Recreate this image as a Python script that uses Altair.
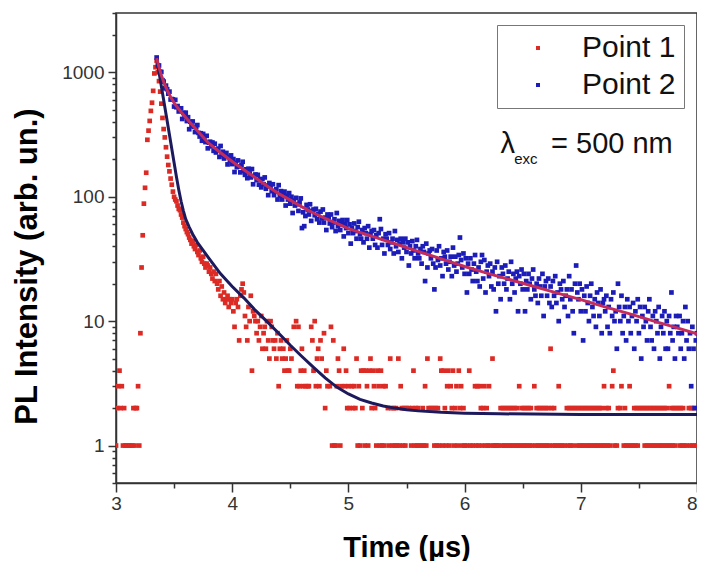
import altair as alt
import pandas as pd
import numpy as np

FONT = "Liberation Sans"

# ---- Point 1 (red) : counts on a 0.01 us grid starting at 3.00 us (0 = empty bin) ----
red_start, red_step = 3.00, 0.01
red_counts = [
    1, 2, 3, 4, 2, 3, 1, 2, 1, 1, 0, 1, 1, 0, 1, 2, 1, 2, 2, 3, 1,
    8, 27, 49, 88, 118, 156, 287, 340, 407, 490, 570, 710, 980, 1100, 1240,
    1000, 850, 700, 560, 430, 350, 300, 250, 210, 180,
    160, 140, 125, 110, 100, 95, 92, 85, 80, 78,
    72, 68, 62, 58, 55, 52, 50, 47, 45, 42,
    44, 40, 38, 41, 36, 34, 37, 32, 30, 33,
    29, 27, 29, 28, 25, 27, 24, 22, 25, 21,
    24, 20, 18, 21, 16, 19, 15, 17, 14, 15,
    16, 13, 15, 14, 15, 12, 9, 14, 15, 13,
    7, 16, 18, 20, 17, 11, 9, 7, 13, 10,
    16, 4, 12, 11, 10, 8, 10, 7, 9, 11,
    6, 8, 9, 6, 10, 7, 5, 10, 9, 7,
    6, 7, 5, 8, 3, 6, 7, 5, 6, 4,
    5, 7, 4, 4, 6, 5, 0, 9, 0, 10,
    3, 9, 3, 4, 6, 3, 4, 3, 0, 3,
    3, 0, 9, 7, 4, 10, 3, 5, 6, 3,
    7, 5, 0, 8, 2, 4, 3, 0, 3, 9,
    1, 7, 1, 1, 3, 5, 4, 1, 3, 0,
    6, 3, 4, 2, 3, 2, 0, 3, 2, 3,
    2, 5, 1, 3, 1, 4, 2, 4, 1, 4,
    3, 1, 4, 5, 2, 4, 3, 2, 1, 4,
    3, 1, 4, 1, 3, 1, 3, 0, 2, 1,
    5, 2, 1, 2, 1, 2, 1, 5, 1, 3,
    2, 1, 2, 1, 2, 0, 2, 0, 1, 2,
    4, 1, 2, 1, 2, 1, 0, 1, 2, 1,
    3, 1, 5, 2, 0, 2, 0, 2, 1, 2,
    1, 2, 1, 5, 4, 1, 4, 2, 1, 3,
    4, 1, 3, 2, 4, 1, 2, 3, 1, 4,
    2, 3, 1, 2, 1, 0, 1, 0, 4, 1,
    0, 1, 0, 3, 1, 3, 1, 3, 2, 1,
    2, 3, 1, 2, 1, 3, 1, 0, 5, 1,
    1, 1, 1, 1, 0, 2, 1, 2, 1, 2,
    1, 2, 1, 2, 1, 2, 1, 2, 1, 2,
    1, 3, 1, 2, 1, 2, 1, 2, 1, 2,
    1, 2, 1, 0, 3, 1, 2, 1, 2, 1,
    2, 1, 2, 1, 2, 1, 2, 1, 6, 2,
    1, 2, 1, 0, 1, 3, 1, 0, 1, 0,
    1, 0, 2, 1, 2, 1, 2, 1, 2, 0,
    2, 1, 2, 1, 2, 1, 2, 1, 2, 1,
    2, 1, 2, 1, 2, 1, 2, 1, 2, 1,
    2, 1, 2, 1, 3, 1, 2, 1, 2, 1,
    0, 3, 4, 1, 0, 1, 2, 0, 2, 3,
    0, 1, 2, 1, 0, 1, 3, 1, 0, 1,
    2, 1, 2, 1, 2, 0, 2, 0, 2, 1,
    2, 1, 2, 1, 2, 1, 2, 1, 2, 1,
    2, 1, 2, 1, 2, 1, 2, 1, 2, 1,
    3, 1, 2, 1, 2, 1, 2, 0, 2, 1,
    2, 1, 2, 1, 0, 1, 0, 2, 1, 2,
    1, 2, 1, 0, 1,
]

# ---- Point 2 (blue) : counts on a 0.01 us grid starting at 3.35 us ----
blue_start, blue_step = 3.35, 0.01
blue_counts = [
    1316, 1138, 1135, 1012, 1007, 865, 843, 744, 782, 732,
    674, 700, 605, 610, 606, 531, 601, 524, 536, 485,
    499, 514, 422, 472, 442, 474, 406, 436, 349, 401,
    371, 403, 365, 331, 363, 377, 326, 305, 324, 282,
    320, 296, 275, 309, 245, 272, 277, 254, 273, 234,
    267, 227, 238, 244, 209, 256, 217, 230, 203, 215,
    225, 182, 209, 196, 215, 183, 201, 158, 187, 173,
    196, 175, 157, 179, 191, 162, 150, 166, 141, 168,
    154, 143, 167, 126, 147, 151, 136, 150, 125, 138,
    119, 139, 126, 143, 116, 123, 103, 129, 121, 111,
    126, 103, 110, 115, 95, 124, 102, 111, 95, 103,
    110, 85, 102, 95, 107, 88, 100, 74, 93, 85,
    98, 87, 77, 90, 97, 56, 75, 58, 70, 86,
    79, 72, 87, 64, 77, 79, 71, 80, 66, 73,
    62, 76, 67, 79, 62, 68, 54, 72, 68, 61,
    72, 57, 62, 66, 53, 74, 58, 64, 54, 60,
    65, 48, 60, 56, 65, 51, 60, 42, 56, 51,
    61, 53, 46, 57, 63, 50, 46, 54, 43, 56,
    51, 46, 58, 39, 50, 53, 46, 54, 41, 49,
    39, 51, 66, 55, 41, 46, 35, 50, 46, 41,
    51, 38, 43, 46, 35, 53, 40, 45, 36, 42,
    46, 32, 43, 39, 46, 36, 43, 28, 40, 35,
    44, 37, 32, 40, 45, 35, 32, 38, 29, 40,
    36, 21, 42, 27, 35, 37, 32, 38, 29, 18,
    27, 37, 31, 40, 28, 32, 23, 36, 33, 29,
    37, 26, 30, 33, 23, 39, 28, 33, 25, 29,
    34, 47, 31, 27, 35, 24, 32, 17, 29, 24,
    32, 26, 21, 29, 34, 25, 21, 27, 19, 30,
    34, 22, 31, 17, 25, 28, 23, 29, 19, 25,
    18, 27, 12, 30, 20, 23, 15, 27, 24, 20,
    28, 18, 22, 25, 15, 30, 20, 24, 17, 22,
    25, 12, 23, 20, 26, 18, 24, 12, 21, 18,
    24, 20, 15, 22, 26, 18, 16, 20, 14, 22,
    19, 16, 24, 11, 19, 21, 16, 22, 14, 19,
    13, 21, 16, 23, 14, 17, 10, 20, 18, 15,
    21, 13, 16, 18, 11, 23, 15, 18, 12, 8,
    20, 28, 17, 15, 20, 12, 18, 7, 16, 12,
    19, 14, 10, 16, 20, 13, 11, 15, 9, 17,
    14, 11, 18, 8, 14, 15, 12, 16, 9, 13,
    8, 15, 11, 17, 10, 12, 6, 20, 13, 10,
    16, 8, 11, 13, 7, 15, 10, 13, 8, 11,
    14, 6, 12, 10, 15, 8, 13, 5, 11, 9,
    13, 10, 7, 12, 15, 9, 7, 11, 6, 12,
    10, 8, 13, 5, 9, 11, 8, 12, 6, 10,
    6, 11, 8, 17, 7, 9, 5, 11, 9, 8,
    11, 6, 8, 10, 5, 13, 7, 10, 6, 8,
    3, 9, 6, 2, 7, 8,
]

# ---- fitted curves ----
fit1_t = [3.35, 3.40, 3.45, 3.50, 3.52, 3.54, 3.56, 3.58, 3.60, 3.63, 3.66, 3.70, 3.75,
          3.80, 3.90, 4.00, 4.10, 4.20, 4.30, 4.40, 4.50, 4.60, 4.70, 4.80, 4.90, 5.00,
          5.10, 5.20, 5.30, 5.40, 5.50, 5.60, 5.80, 6.00, 6.30, 6.60, 7.00, 7.50, 8.00]
fit1_y = [1300, 682, 358, 188, 145, 114, 92, 77, 66, 57, 50, 43, 37,
          32, 24, 19, 15.4, 12.2, 9.9, 8.0, 6.4, 5.2, 4.25, 3.5, 2.95, 2.6,
          2.35, 2.2, 2.08, 2.0, 1.94, 1.9, 1.85, 1.82, 1.8, 1.79, 1.78, 1.78, 1.78]

fit2_t = [3.35, 3.37, 3.39, 3.41, 3.44, 3.47, 3.51, 3.56, 3.60, 3.70, 3.80, 3.90, 4.00,
          4.10, 4.20, 4.30, 4.40, 4.50, 4.60, 4.70, 4.80, 4.90, 5.00, 5.20, 5.40, 5.60,
          5.80, 6.00, 6.20, 6.40, 6.60, 6.80, 7.00, 7.20, 7.40, 7.60, 7.80, 8.00]
fit2_y = [1300, 1100, 950, 840, 720, 634, 549, 480, 434, 339, 268, 226, 192,
          165, 142, 122, 106, 94, 83, 74, 67, 61, 55.5, 48.2, 41.9, 36.4,
          31.7, 27.5, 24.2, 21.4, 19, 16.8, 14.9, 13.1, 11.6, 10.2, 9.0, 7.9]

series_names = ["Point 1", "Point 2"]
series_colors = ["#dc2a24", "#1c1cb8"]

y_ticks = [0.5, 0.6, 0.7, 0.8, 0.9, 1, 2, 3, 4, 5, 6, 7, 8, 9, 10, 20, 30, 40, 50, 60, 70, 80, 90,
           100, 200, 300, 400, 500, 600, 700, 800, 900, 1000, 2000, 3000]
x_ticks = [3, 3.5, 4, 4.5, 5, 5.5, 6, 6.5, 7, 7.5, 8]

# ---- tables ----
red_df = pd.DataFrame({"t": np.round(red_start + red_step * np.arange(len(red_counts)), 3),
                       "y": red_counts, "series": series_names[0]})
blue_df = pd.DataFrame({"t": np.round(blue_start + blue_step * np.arange(len(blue_counts)), 3),
                        "y": blue_counts, "series": series_names[1]})
pts = pd.concat([red_df, blue_df], ignore_index=True)
pts = pts[pts["y"] > 0]
fit1_df = pd.DataFrame({"t": fit1_t, "y": fit1_y})
fit2_df = pd.DataFrame({"t": fit2_t, "y": fit2_y})

major_y = "datum.value == 1 || datum.value == 10 || datum.value == 100 || datum.value == 1000"
major_x = "datum.value % 1 == 0"

x_scale = alt.Scale(domain=[3, 8], nice=False, zero=False)
y_scale = alt.Scale(type="log", domain=[0.5, 3000], nice=False)

x_axis = alt.Axis(
    values=x_ticks, title="Time (\u00b5s)", grid=False,
    labelExpr=f"({major_x}) ? format(datum.value, 'd') : ''",
    labelAlign={"condition": {"test": "datum.value == 8", "value": "right"}, "value": "center"},
    tickSize={"condition": {"test": major_x, "value": 9}, "value": 5},
    labelFontSize=19, labelFont=FONT, labelColor="#333", labelPadding=2,
    labelFlush=False, labelOverlap=False,
    titleFontSize=29, titleFont=FONT, titleFontWeight="bold", titleColor="#000",
    titleBaseline="alphabetic", titleY=73,
    domainColor="#333", domainWidth=1.5, tickColor="#333", tickWidth=1.5,
)
y_axis = alt.Axis(
    values=y_ticks, title="PL Intensity (arb. un.)", grid=False,
    labelExpr=f"({major_y}) ? format(datum.value, 'd') : ''",
    tickSize={"condition": {"test": major_y, "value": 8}, "value": 4},
    labelFontSize=19, labelFont=FONT, labelColor="#333", labelPadding=4,
    labelFlush=False, labelOverlap=False,
    titleFontSize=31, titleFont=FONT, titleFontWeight="bold", titleColor="#000",
    titleX=-73, titleY=253,
    domainColor="#333", domainWidth=1.5, tickColor="#333", tickWidth=1.5,
)

points = alt.Chart(pts).mark_point(shape="square", filled=True, size=22, opacity=1, clip=True).encode(
    x=alt.X("t:Q", scale=x_scale, axis=x_axis),
    y=alt.Y("y:Q", scale=y_scale, axis=y_axis),
    color=alt.Color("series:N", scale=alt.Scale(domain=series_names, range=series_colors),
                    legend=alt.Legend(title=None, orient="none", legendX=381, legendY=12,
                                      strokeColor="#777", fillColor="white", padding=8,
                                      labelFontSize=30, labelFont=FONT, labelColor="#111",
                                      symbolType="square", symbolSize=16, symbolOffset=18,
                                      labelOffset=29, rowPadding=7)),
)

line1 = alt.Chart(fit1_df).mark_line(color="#1c1a5c", strokeWidth=3, clip=True).encode(
    x=alt.X("t:Q", scale=x_scale), y=alt.Y("y:Q", scale=y_scale))
line2 = alt.Chart(fit2_df).mark_line(color="#c42c5a", strokeWidth=3, clip=True).encode(
    x=alt.X("t:Q", scale=x_scale), y=alt.Y("y:Q", scale=y_scale))

ann_lambda = alt.Chart(pd.DataFrame({"t": [6.31], "y": [226], "s": ["\u03bb"]})).mark_text(
    align="left", baseline="alphabetic", fontSize=29, font=FONT, color="#111").encode(
    x=alt.X("t:Q", scale=x_scale), y=alt.Y("y:Q", scale=y_scale), text="s:N")
ann_sub = alt.Chart(pd.DataFrame({"t": [6.427], "y": [184], "s": ["exc"]})).mark_text(
    align="left", baseline="alphabetic", fontSize=15, font=FONT, color="#111").encode(
    x=alt.X("t:Q", scale=x_scale), y=alt.Y("y:Q", scale=y_scale), text="s:N")
ann_rest = alt.Chart(pd.DataFrame({"t": [6.744], "y": [226], "s": ["= 500 nm"]})).mark_text(
    align="left", baseline="alphabetic", fontSize=29, font=FONT, color="#111").encode(
    x=alt.X("t:Q", scale=x_scale), y=alt.Y("y:Q", scale=y_scale), text="s:N")

chart = alt.layer(points, line1, line2, ann_lambda, ann_sub, ann_rest).properties(
    width=581, height=470, background="white",
    autosize=alt.AutoSizeParams(type="none"),
    padding={"left": 108, "top": 5, "right": 0, "bottom": 78},
).configure_view(stroke="#333", strokeWidth=1.5)

chart.save("out.html", embed_options={"renderer": "svg", "actions": False})
